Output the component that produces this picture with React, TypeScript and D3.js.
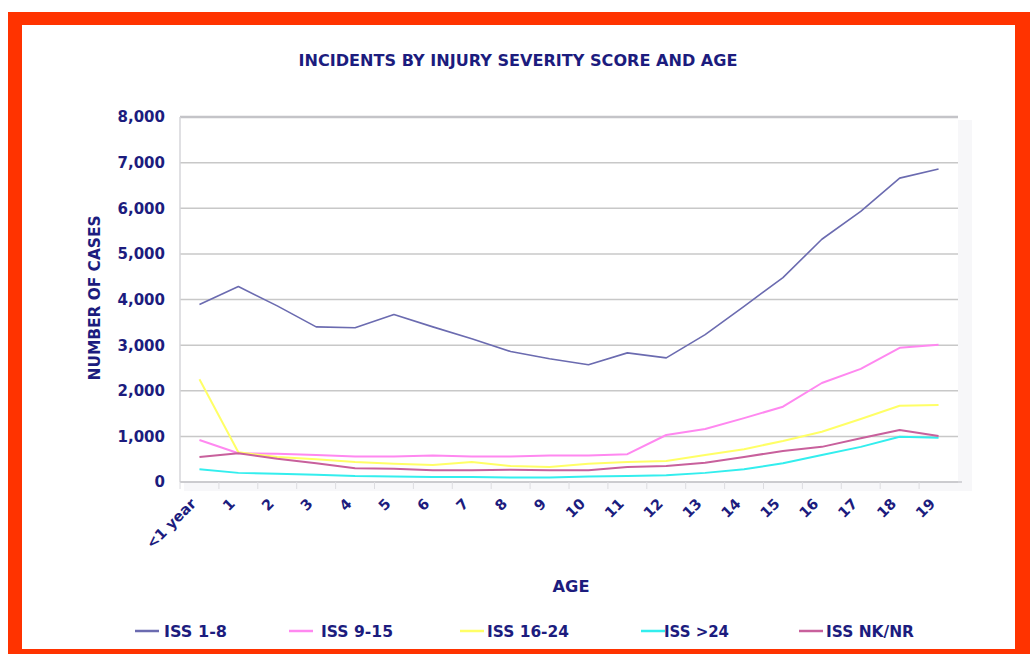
import React from "react";
import * as d3 from "d3";

const categories = ["<1 year", "1", "2", "3", "4", "5", "6", "7", "8", "9", "10", "11", "12", "13", "14", "15", "16", "17", "18", "19"];
const iss1to8 = [3890, 4285, 3860, 3400, 3380, 3670, 3400, 3140, 2860, 2700, 2570, 2830, 2720, 3230, 3850, 4480, 5320, 5930, 6660, 6860];
const iss9to15 = [920, 630, 620, 590, 560, 560, 580, 560, 560, 580, 580, 610, 1030, 1160, 1400, 1650, 2170, 2480, 2940, 3010];
const iss16to24 = [2250, 650, 550, 500, 440, 400, 370, 440, 350, 330, 400, 440, 460, 590, 720, 900, 1100, 1380, 1670, 1690];
const issOver24 = [280, 200, 180, 160, 130, 120, 110, 110, 100, 100, 120, 130, 150, 200, 280, 410, 590, 770, 990, 970];
const issNKNR = [550, 630, 510, 410, 300, 290, 260, 260, 270, 260, 260, 330, 350, 420, 550, 680, 770, 960, 1140, 1010];
const yTicks = [0, 1000, 2000, 3000, 4000, 5000, 6000, 7000, 8000];

const seriesNames = ["ISS 1-8", "ISS 9-15", "ISS 16-24", "ISS >24", "ISS NK/NR"];
const seriesValues = [iss1to8, iss9to15, iss16to24, issOver24, issNKNR];
const seriesColors = ["#6b6bb0", "#ff88f0", "#ffff66", "#33eeee", "#c8609c"];

const NAVY = "#1c1c7e";
const FONT = "'DejaVu Sans', Verdana, sans-serif";

export default function App() {
  const left = 180, right = 958, top = 117, bottom = 482;
  const x = d3.scaleBand<string>().domain(categories).range([left, right]);
  const y = d3.scaleLinear().domain([0, 8000]).range([bottom, top]);
  const cx = (c: string) => (x(c) as number) + x.bandwidth() / 2;
  const fmt = d3.format(",");

  const line = d3
    .line<number>()
    .x((_, i) => cx(categories[i]))
    .y((v) => y(v));

  const legendSample = [135, 289, 460, 641, 799];
  const legendText = [164, 321, 487, 664, 826];
  const legendWidths = [63, 72, 82, 65, 88];

  return (
    <svg width={1030} height={654} style={{ position: "absolute", left: 0, top: 0 }}>
      <rect x={0} y={0} width={1030} height={654} fill="#ffffff" />
      <rect x={8} y={12} width={1022} height={642} fill="#ff3300" />
      <rect x={22} y={25} width={993} height={624} fill="#ffffff" />

      <text x={518} y={66} textAnchor="middle" fontFamily={FONT} fontWeight="bold" fontSize={16} fill={NAVY} textLength={439} lengthAdjust="spacingAndGlyphs">
        INCIDENTS BY INJURY SEVERITY SCORE AND AGE
      </text>

      <rect x={left + 4} y={top + 3} width={right - left + 10} height={bottom - top + 6} fill="#f7f7f9" />
      <rect x={left} y={top} width={right - left} height={bottom - top} fill="#ffffff" />

      {yTicks.map((t) => (
        <line key={t} x1={left} x2={right} y1={y(t)} y2={y(t)} stroke={t === 8000 ? "#c4c4c8" : "#c8c8c8"} strokeWidth={t === 8000 ? 2.5 : 1.5} />
      ))}
      <line x1={left} x2={left} y1={top} y2={bottom} stroke="#d6d6da" strokeWidth={1.5} />
      <line x1={left} x2={right + 4} y1={bottom} y2={bottom} stroke="#c8c8cc" strokeWidth={1.5} />
      {categories.map((c) => (
        <line key={c} x1={x(c) as number} x2={x(c) as number} y1={bottom} y2={bottom + 7} stroke="#dcdce0" strokeWidth={1} />
      ))}

      {yTicks.map((t) => (
        <text key={t} x={165} y={y(t)} dy="0.36em" textAnchor="end" fontFamily={FONT} fontWeight="bold" fontSize={15} fill={NAVY}>
          {fmt(t)}
        </text>
      ))}

      {categories.map((c) => (
        <text
          key={c}
          transform={`translate(${cx(c) - 6},${bottom + 19}) rotate(-45)`}
          textAnchor="end"
          dy="0.35em"
          fontFamily={FONT}
          fontWeight="bold"
          fontSize={14.5}
          fill={NAVY}
        >
          {c}
        </text>
      ))}

      <text transform="translate(100,298) rotate(-90)" textAnchor="middle" fontFamily={FONT} fontWeight="bold" fontSize={15} fill={NAVY} textLength={165} lengthAdjust="spacingAndGlyphs">
        NUMBER OF CASES
      </text>
      <text x={571} y={592} textAnchor="middle" fontFamily={FONT} fontWeight="bold" fontSize={15} fill={NAVY} textLength={37} lengthAdjust="spacingAndGlyphs">
        AGE
      </text>

      {seriesValues.map((vals, k) => (
        <path key={seriesNames[k]} d={line(vals) as string} fill="none" stroke={seriesColors[k]} strokeWidth={k === 0 ? 1.6 : 2} strokeLinejoin="round" />
      ))}

      {seriesNames.map((n, k) => (
        <g key={n}>
          <line x1={legendSample[k]} x2={legendSample[k] + 24} y1={631} y2={631} stroke={seriesColors[k]} strokeWidth={2.5} />
          <text x={legendText[k]} y={637} fontFamily={FONT} fontWeight="bold" fontSize={15} fill={NAVY} textLength={legendWidths[k]} lengthAdjust="spacingAndGlyphs">
            {n}
          </text>
        </g>
      ))}
    </svg>
  );
}
